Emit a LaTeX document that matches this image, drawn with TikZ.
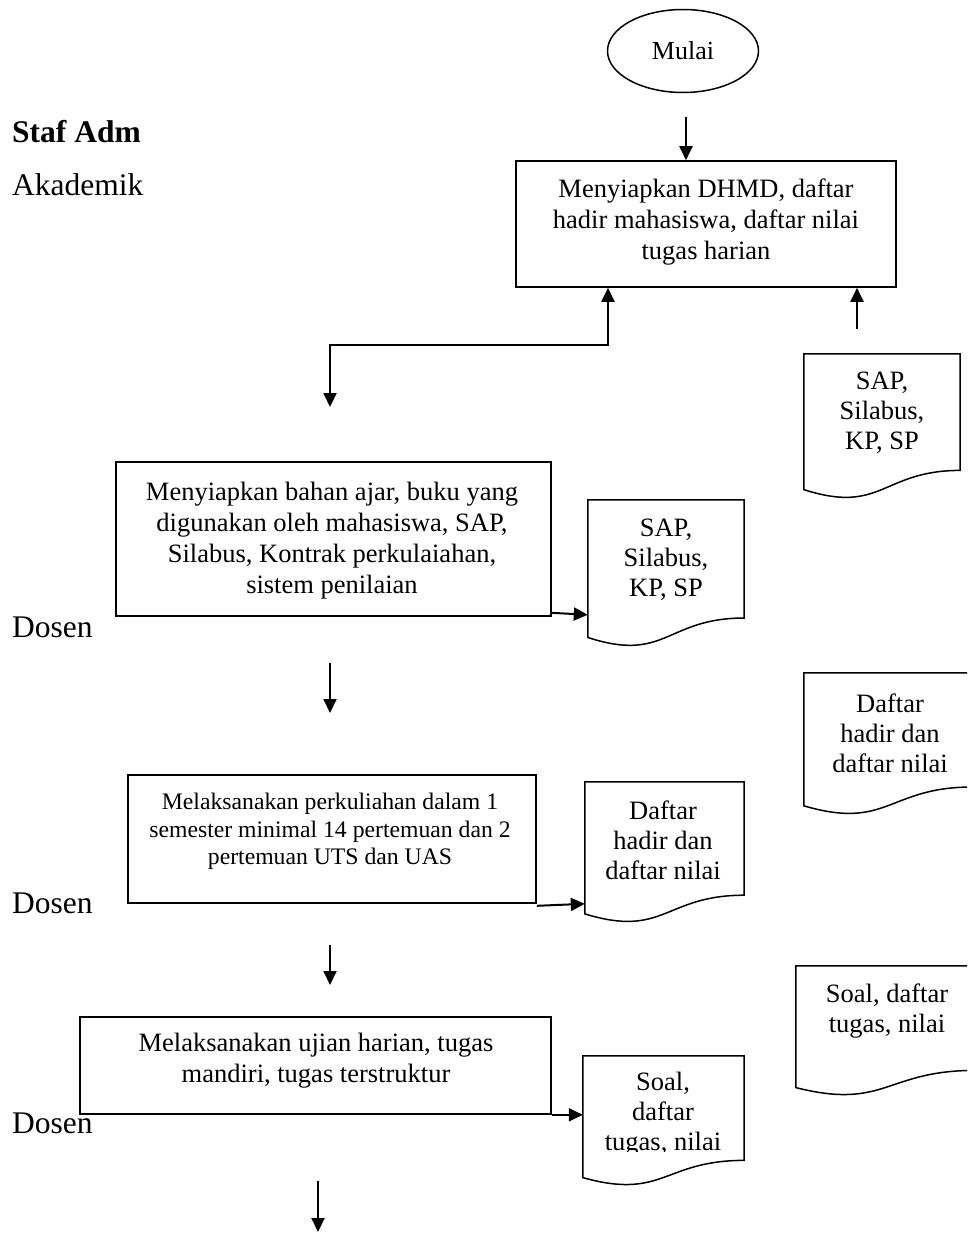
\documentclass[tikz,border=0pt]{standalone}
\usepackage{fontspec}
\setmainfont{Liberation Serif}
\usetikzlibrary{arrows.meta,calc,shapes.geometric}

% outline of a flowchart "document" symbol drawn on a named rectangle node
\newcommand\docoutline[1]{%
  \draw[docline] (#1.north west) -- (#1.north east)
    -- ($(#1.north east)!0.802!(#1.south east)$)
    .. controls ($(#1.north)!0.802!(#1.south)$) and ($(#1.north)!1.1075!(#1.south)$)
    .. ($(#1.north west)!0.934!(#1.south west)$) -- cycle;}

\tikzset{
  box/.style={draw, line width=1.6pt, rectangle, inner sep=0pt},
  docbox/.style={rectangle, inner sep=0pt},
  docline/.style={line width=1.5pt, line join=miter},
  btext/.style={align=center, font=\fontsize{26.5}{31}\selectfont, inner sep=0pt},
  stext/.style={align=center, font=\fontsize{23.7}{27.5}\selectfont, inner sep=0pt},
  dtext/.style={align=center, font=\fontsize{26.5}{30}\selectfont, inner sep=0pt},
  lane/.style={anchor=base west, font=\fontsize{31.5}{36}\selectfont, inner sep=0pt},
  tip/.tip={Triangle[length=14pt,width=13pt]},
  arr/.style={line width=2pt, -tip},
  arrboth/.style={line width=2pt, tip-tip},
}

\begin{document}
\begin{tikzpicture}[x=1pt, y=-1pt]
\useasboundingbox (0,0) rectangle (967,1234);
\clip (0,0) rectangle (967,1234);

% lane labels
\node[lane] (lstaf) at (12,142) {\textbf{Staf Adm}};
\node[lane] (lakad) at (12,195) {Akademik};
\node[lane] (ldos1) at (12,637) {Dosen};
\node[lane] (ldos2) at (12,913) {Dosen};
\node[lane] (ldos3) at (12,1133) {Dosen};

% start terminal
\node[draw, ellipse, line width=1.5pt, inner sep=0pt, minimum width=151pt, minimum height=83pt,
      font=\fontsize{26}{30}\selectfont] (start) at (683,51) {Mulai};

% process boxes
\node[box, minimum width=380pt, minimum height=126pt] (b1) at (706,224) {};
\node[btext] (b1t) at (706,222) {Menyiapkan DHMD, daftar\\hadir mahasiswa, daftar nilai\\tugas harian};

\node[box, minimum width=435pt, minimum height=154pt] (b2) at (333.5,539) {};
\node[btext] (b2t) at (332,540.5) {Menyiapkan bahan ajar, buku yang\\digunakan oleh mahasiswa, SAP,\\Silabus, Kontrak perkulaiahan,\\sistem penilaian};

\node[box, minimum width=408pt, minimum height=128pt] (b3) at (332,839) {};
\node[stext] (b3t) at (330,831.5) {Melaksanakan perkuliahan dalam 1\\semester minimal 14 pertemuan dan 2\\pertemuan UTS dan UAS};

\node[box, minimum width=471pt, minimum height=97pt] (b4) at (315.5,1065.5) {};
\node[btext] (b4t) at (316,1061) {Melaksanakan ujian harian, tugas\\mandiri, tugas terstruktur};

% documents
\node[docbox, minimum width=156pt, minimum height=145pt] (d1) at (882,426.5) {};
\docoutline{d1}
\node[dtext] (d1t) at (882,413) {SAP,\\Silabus,\\KP, SP};

\node[docbox, minimum width=156pt, minimum height=147pt] (d2) at (666,573.5) {};
\docoutline{d2}
\node[dtext] (d2t) at (666,560) {SAP,\\Silabus,\\KP, SP};

\node[docbox, minimum width=168pt, minimum height=142pt] (dr2) at (888,744) {};
\docoutline{dr2}
\node[dtext] (dr2t) at (890,733) {Daftar\\hadir dan\\daftar nilai};

\node[docbox, minimum width=159pt, minimum height=141pt] (d3) at (664.5,852.5) {};
\docoutline{d3}
\node[dtext] (d3t) at (663,840) {Daftar\\hadir dan\\daftar nilai};

\node[docbox, minimum width=179pt, minimum height=130pt] (dr3) at (885.5,1031) {};
\docoutline{dr3}
\node[dtext] (dr3t) at (887,1011) {Soal, daftar\\tugas, nilai};

\node[docbox, minimum width=161pt, minimum height=130pt] (d4) at (663.5,1121) {};
\docoutline{d4}
\begin{scope}
  \clip (583,1056) rectangle (744,1151);
  \node[dtext] (d4t) at (663,1114) {Soal,\\daftar\\tugas, nilai};
\end{scope}

% free connector ends
\coordinate (c0) at (686,117);
\coordinate (k1) at (608,345);
\coordinate (k2) at (330,345);
\coordinate (k3) at (330,407);
\coordinate (k4) at (857,329);
\coordinate (a1s) at (330,663);
\coordinate (a1e) at (330,713);
\coordinate (a2s) at (330,945);
\coordinate (a2e) at (330,985);
\coordinate (a3s) at (318,1181);
\coordinate (a3e) at (318,1232);

% connectors
\draw[arr] (c0) -- (c0 |- b1.north);
\draw[arrboth] (k1 |- b1.south) -- (k1) -- (k2) -- (k3);
\draw[arr] (k4) -- (k4 |- b1.south);
\draw[arr] ($(b2.south east)+(0,-4)$) -- ($(d2.north west)+(0,115)$);
\draw[arr] ($(b3.south east)+(0,2)$) -- ($(d3.north west)+(0,122)$);
\draw[arr] (b4.south east) -- ($(d4.north west)+(0,59)$);
\draw[arr] (a1s) -- (a1e);
\draw[arr] (a2s) -- (a2e);
\draw[arr] (a3s) -- (a3e);
\end{tikzpicture}
\end{document}
